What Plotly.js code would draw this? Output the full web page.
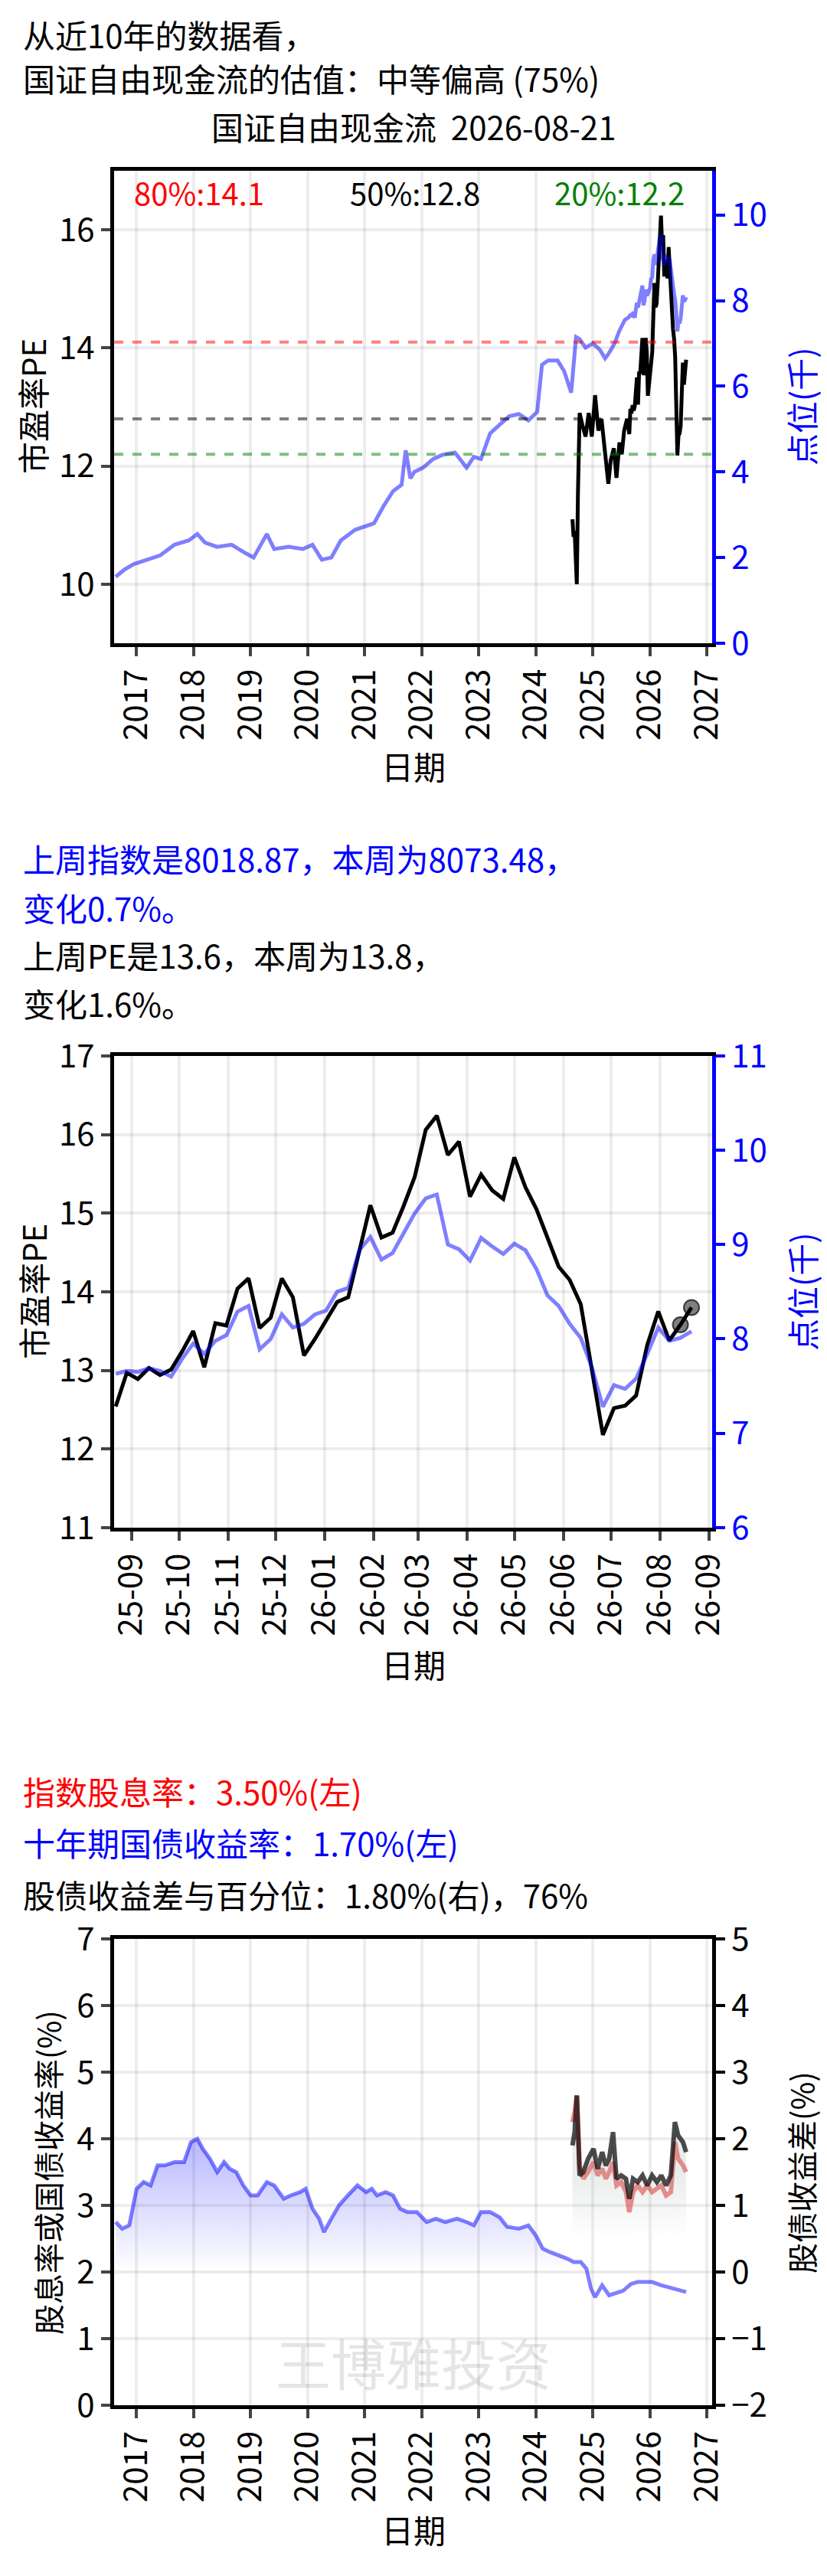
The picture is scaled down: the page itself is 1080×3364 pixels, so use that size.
<!DOCTYPE html>
<html>
<head>
<meta charset="utf-8">
<script src="https://cdn.plot.ly/plotly-3.0.1.min.js"></script>
<style>body{margin:0;background:#fff}</style>
</head>
<body>
<div id="chart" style="width:1080px;height:3364px"></div>
<script>
// long-run index level (thousands), monthly-ish readings before the last year
const idxDates = ['2016-08-20','2016-10-15','2016-12-15','2017-03-01','2017-06-01','2017-09-01','2017-12-01','2018-01-25','2018-03-15','2018-06-01','2018-09-01','2018-12-01','2019-01-20','2019-04-15','2019-06-01','2019-09-01','2019-12-01','2020-02-01','2020-04-01','2020-06-01','2020-08-01','2020-11-01','2021-01-10','2021-03-01','2021-05-01','2021-07-01','2021-08-25','2021-09-20','2021-10-20','2021-11-15','2022-01-10','2022-03-15','2022-05-15','2022-08-01','2022-10-15','2022-12-01','2023-01-15','2023-03-15','2023-05-15','2023-07-15','2023-09-15','2023-11-15','2024-01-10','2024-02-10','2024-03-20','2024-05-20','2024-07-01','2024-08-15','2024-09-15','2024-10-08','2024-11-15','2025-01-01','2025-02-15','2025-03-20','2025-04-10','2025-05-20','2025-06-20','2025-07-25','2025-08-15'];
const idxVals = [1.55,1.72,1.85,1.95,2.05,2.3,2.4,2.55,2.35,2.25,2.3,2.1,2.0,2.55,2.2,2.25,2.2,2.3,1.95,2.0,2.4,2.65,2.75,2.8,3.2,3.55,3.7,4.5,3.85,4.0,4.1,4.3,4.4,4.45,4.1,4.35,4.3,4.9,5.1,5.3,5.35,5.2,5.4,6.5,6.6,6.6,6.35,5.85,7.15,7.1,6.9,7.0,6.85,6.65,6.75,7.0,7.3,7.55,7.6];
// PE before the weekly window
const peDates = ['2024-08-23','2024-08-30','2024-09-06','2024-09-13','2024-09-20','2024-09-27','2024-10-08','2024-10-25','2024-11-15','2024-12-05','2024-12-25','2025-01-15','2025-02-05','2025-02-25','2025-03-15','2025-04-01','2025-04-10','2025-04-25','2025-05-15','2025-06-01','2025-06-20','2025-07-05','2025-07-20','2025-08-08','2025-08-15'];
const peVals = [11.1,10.8,10.9,10.3,10.0,11.5,12.9,12.7,12.5,12.9,12.5,13.2,12.6,12.8,12.3,11.8,11.7,12.1,12.3,11.8,12.4,12.2,12.6,12.8,12.7];

// last year, weekly from 2025-08-22 to 2026-08-21
const weekStart = '2025-08-22';
const wkPE = [12.54,12.97,12.89,13.03,12.94,13.01,13.24,13.50,13.04,13.60,13.57,14.04,14.17,13.54,13.67,14.17,13.93,13.19,13.40,13.64,13.87,13.93,14.53,15.10,14.69,14.75,15.09,15.46,16.06,16.24,15.74,15.91,15.21,15.49,15.29,15.18,15.71,15.33,15.05,14.67,14.32,14.15,13.84,13.01,12.18,12.52,12.55,12.68,13.32,13.75,13.38,13.58,13.80];
const wkIdx = [7.63,7.66,7.65,7.69,7.66,7.60,7.79,7.95,7.84,7.98,8.04,8.29,8.35,7.89,8.00,8.26,8.12,8.16,8.26,8.30,8.50,8.54,8.94,9.08,8.84,8.91,9.12,9.33,9.49,9.53,9.00,8.95,8.83,9.07,8.98,8.90,9.01,8.94,8.74,8.46,8.35,8.16,8.01,7.70,7.28,7.51,7.47,7.58,7.84,8.12,7.98,8.01,8.08];

// PE percentiles
const pctLabels = ['80%:14.1','50%:12.8','20%:12.2'];
const pctVals = [14.1,12.8,12.2];

// yields
const bondDates = ['2016-08-20','2016-10-01','2016-11-15','2017-01-01','2017-02-15','2017-04-01','2017-05-15','2017-07-01','2017-09-01','2017-11-01','2017-12-15','2018-01-25','2018-03-01','2018-04-15','2018-06-01','2018-07-15','2018-08-20','2018-10-01','2018-11-15','2019-01-01','2019-02-15','2019-04-15','2019-06-01','2019-08-01','2019-09-15','2019-11-15','2019-12-20','2020-02-01','2020-03-15','2020-04-15','2020-06-01','2020-07-20','2020-09-15','2020-11-15','2021-01-10','2021-02-15','2021-03-20','2021-05-15','2021-07-01','2021-08-15','2021-10-01','2021-12-01','2022-02-01','2022-04-01','2022-06-01','2022-08-15','2022-10-15','2022-12-01','2023-01-15','2023-03-15','2023-05-15','2023-07-01','2023-09-15','2023-11-15','2024-01-01','2024-02-15','2024-04-01','2024-06-01','2024-07-20','2024-09-01','2024-10-15','2024-11-20','2024-12-20','2025-01-15','2025-03-01','2025-04-15','2025-06-01','2025-07-15','2025-09-01','2025-10-15','2025-12-01','2026-01-15','2026-03-15','2026-05-15','2026-07-01','2026-08-21'];
const bondVals = [2.75,2.65,2.7,3.25,3.35,3.3,3.6,3.6,3.65,3.65,3.95,4.0,3.85,3.7,3.5,3.65,3.55,3.5,3.3,3.15,3.15,3.35,3.3,3.1,3.15,3.2,3.25,2.95,2.8,2.6,2.8,3.0,3.15,3.3,3.2,3.25,3.15,3.2,3.15,2.95,2.9,2.9,2.75,2.8,2.75,2.8,2.75,2.7,2.9,2.9,2.82,2.68,2.65,2.7,2.55,2.35,2.3,2.25,2.2,2.15,2.15,2.05,1.75,1.62,1.8,1.65,1.68,1.72,1.82,1.85,1.85,1.85,1.8,1.76,1.73,1.7];
const ydDates = ['2024-08-23','2024-09-06','2024-09-20','2024-10-08','2024-11-01','2024-12-01','2025-01-05','2025-02-01','2025-03-01','2025-03-25','2025-04-15','2025-05-10','2025-06-01','2025-07-01','2025-08-01','2025-08-22','2025-09-15','2025-10-15','2025-11-15','2025-12-15','2026-01-15','2026-02-15','2026-03-15','2026-04-15','2026-05-15','2026-06-10','2026-07-01','2026-08-01','2026-08-21'];
const divVals = [4.25,4.4,4.65,3.6,3.4,3.5,3.65,3.45,3.55,3.4,3.5,3.65,3.3,3.35,3.2,2.9,3.2,3.3,3.2,3.3,3.2,3.25,3.3,3.15,3.2,3.95,3.7,3.6,3.5];
const spreadVals = [1.9,2.1,2.65,1.45,1.5,1.7,1.85,1.55,1.8,1.6,1.7,2.1,1.4,1.45,1.4,1.1,1.4,1.35,1.45,1.3,1.45,1.35,1.45,1.3,1.45,2.25,2.05,1.95,1.8];

const wkDates = wkPE.map((_, i) => {
    const d = new Date(weekStart + 'T00:00:00Z');
    d.setUTCDate(d.getUTCDate() + 7 * i);
    return d.toISOString().slice(0, 10);
});

const FONT = 'Noto Sans CJK SC, Noto Sans, sans-serif';
const BLUE_LINE = 'rgba(0,0,255,0.5)';

const traces = [
    // chart 1
    {x: idxDates.concat(wkDates), y: idxVals.concat(wkIdx), xaxis: 'x', yaxis: 'y2', mode: 'lines', line: {color: BLUE_LINE, width: 5}},
    {x: peDates.concat(wkDates), y: peVals.concat(wkPE), xaxis: 'x', yaxis: 'y', mode: 'lines', line: {color: 'black', width: 5}},
    // chart 2
    {x: wkDates, y: wkIdx, xaxis: 'x2', yaxis: 'y4', mode: 'lines', line: {color: BLUE_LINE, width: 5}},
    {x: wkDates, y: wkPE, xaxis: 'x2', yaxis: 'y3', mode: 'lines', line: {color: 'black', width: 5}},
    {x: wkDates.slice(-2), y: wkPE.slice(-2), xaxis: 'x2', yaxis: 'y3', mode: 'markers',
     marker: {color: 'rgba(0,0,0,0.5)', size: 20, line: {color: 'rgba(0,0,0,0.7)', width: 2}}},
    // chart 3
    {x: bondDates, y: bondVals, xaxis: 'x3', yaxis: 'y5', mode: 'lines', line: {color: BLUE_LINE, width: 5},
     fill: 'tozeroy', fillgradient: {type: 'vertical', start: 2.0, stop: 4.0,
       colorscale: [[0, 'rgba(0,0,255,0)'], [1, 'rgba(0,0,255,0.28)']]}},
    {x: ydDates, y: spreadVals, xaxis: 'x3', yaxis: 'y6', mode: 'lines', line: {color: 'rgba(0,0,0,0)', width: 0},
     fill: 'tozeroy', fillgradient: {type: 'vertical', start: 0.5, stop: 1.5,
       colorscale: [[0, 'rgba(140,150,150,0)'], [1, 'rgba(140,150,150,0.18)']]}},
    {x: ydDates, y: divVals, xaxis: 'x3', yaxis: 'y5', mode: 'lines', line: {color: 'rgba(230,60,60,0.6)', width: 6}},
    {x: ydDates, y: spreadVals, xaxis: 'x3', yaxis: 'y6', mode: 'lines', line: {color: 'rgba(0,0,0,0.7)', width: 6}}
];

const XD = [0.138, 0.861];
const tickFont = {family: FONT, size: 42, color: 'black'};
function xAxis(range, dtick, fmt, tick0) {
    return {domain: XD, range: range, type: 'date', dtick: dtick, tick0: tick0, tickformat: fmt,
        tickangle: -90, tickfont: tickFont, ticks: 'outside', ticklen: 12, tickwidth: 4,
        showline: true, linewidth: 5, linecolor: 'black', mirror: true,
        showgrid: true, gridcolor: 'rgba(0,0,0,0.07)', gridwidth: 4, zeroline: false};
}
function yLeft(dom, range, dtick, anchor) {
    return {domain: dom, range: range, dtick: dtick, anchor: anchor, tickfont: tickFont,
        ticks: 'outside', ticklen: 12, tickwidth: 4, showline: true, linewidth: 5, linecolor: 'black', mirror: true,
        showgrid: true, gridcolor: 'rgba(0,0,0,0.07)', gridwidth: 4, zeroline: false};
}
function yRight(over, anchor, range, dtick, color) {
    return {overlaying: over, anchor: anchor, side: 'right', range: range, dtick: dtick,
        tickfont: {family: FONT, size: 42, color: color}, ticks: 'outside', ticklen: 12, tickwidth: 4,
        tickcolor: color, showline: true, linewidth: 5, linecolor: color, showgrid: false, zeroline: false};
}

const D1 = [0.7503, 0.9337], D2 = [0.4070, 0.5901], D3 = [0.0663, 0.2473];
const layout = {
    width: 1080, height: 3364, margin: {l: 0, r: 0, t: 0, b: 0},
    paper_bgcolor: 'white', plot_bgcolor: 'white', showlegend: false,
    font: {family: FONT, color: 'black'},
    xaxis: Object.assign(xAxis(['2016-08-10', '2027-02-03'], 'M12', '%Y', '2017-01-01'), {anchor: 'y'}),
    yaxis: yLeft(D1, [9, 17], 2, 'x'),
    yaxis2: yRight('y', 'x', [0, 11.03], 2, 'blue'),
    xaxis2: Object.assign(xAxis(['2025-08-21', '2026-09-03'], 'M1', '%y-%m', '2025-09-01'), {anchor: 'y3'}),
    yaxis3: yLeft(D2, [11, 17], 1, 'x2'),
    yaxis4: yRight('y3', 'x2', [6, 11], 1, 'blue'),
    xaxis3: Object.assign(xAxis(['2016-08-10', '2027-02-03'], 'M12', '%Y', '2017-01-01'), {anchor: 'y5'}),
    yaxis5: yLeft(D3, [0, 7], 1, 'x3'),
    yaxis6: yRight('y5', 'x3', [-2, 5], 1, 'black'),
    shapes: [
        {type: 'line', xref: 'x domain', x0: 0, x1: 1, yref: 'y', y0: pctVals[0], y1: pctVals[0], line: {color: 'rgba(255,0,0,0.5)', width: 4, dash: 'dash'}},
        {type: 'line', xref: 'x domain', x0: 0, x1: 1, yref: 'y', y0: pctVals[1], y1: pctVals[1], line: {color: 'rgba(0,0,0,0.5)', width: 4, dash: 'dash'}},
        {type: 'line', xref: 'x domain', x0: 0, x1: 1, yref: 'y', y0: pctVals[2], y1: pctVals[2], line: {color: 'rgba(0,128,0,0.5)', width: 4, dash: 'dash'}}
    ],
    annotations: []
};

function txt(text, x, y, size, color, anchor, angle) {
    layout.annotations.push({text: text, xref: 'paper', yref: 'paper', x: x / 1080, y: 1 - y / 3364,
        xanchor: anchor || 'left', yanchor: 'middle', showarrow: false, textangle: angle || 0,
        font: {family: FONT, size: size, color: color || 'black'}});
}
// chart 1 texts
txt('从近10年的数据看，', 28, 44, 42);
txt('国证自由现金流的估值：中等偏高 (75%)', 28, 101, 42);
txt('国证自由现金流  2026-08-21', 540, 164, 42, 'black', 'center');
txt(pctLabels[0], 260, 251, 40, 'red', 'center');
txt(pctLabels[1], 542, 251, 40, 'black', 'center');
txt(pctLabels[2], 809, 251, 40, 'green', 'center');
txt('市盈率PE', 42, 531, 42, 'black', 'center', -90);
txt('点位(千)', 1046, 531, 42, 'blue', 'center', -90);
txt('日期', 540, 1000, 42, 'black', 'center');
// chart 2 texts
txt('上周指数是8018.87，本周为8073.48，', 28, 1121, 42, 'blue');
txt('变化0.7%。', 28, 1184, 42, 'blue');
txt('上周PE是13.6，本周为13.8，', 28, 1246, 42);
txt('变化1.6%。', 28, 1309, 42);
txt('市盈率PE', 42, 1687, 42, 'black', 'center', -90);
txt('点位(千)', 1046, 1687, 42, 'blue', 'center', -90);
txt('日期', 540, 2172, 42, 'black', 'center');
// chart 3 texts
txt('指数股息率：3.50%(左)', 28, 2338, 42, 'red');
txt('十年期国债收益率：1.70%(左)', 28, 2405, 42, 'blue');
txt('股债收益差与百分位：1.80%(右)，76%', 28, 2473, 42);
txt('股息率或国债收益率(%)', 62, 2837, 40, 'black', 'center', -90);
txt('股债收益差(%)', 1046, 2837, 40, 'black', 'center', -90);
txt('王博雅投资', 540, 3083, 72, 'rgba(0,0,0,0.1)', 'center');
txt('日期', 540, 3302, 42, 'black', 'center');

Plotly.newPlot('chart', traces, layout, {displayModeBar: false, staticPlot: true});
</script>
</body>
</html>
